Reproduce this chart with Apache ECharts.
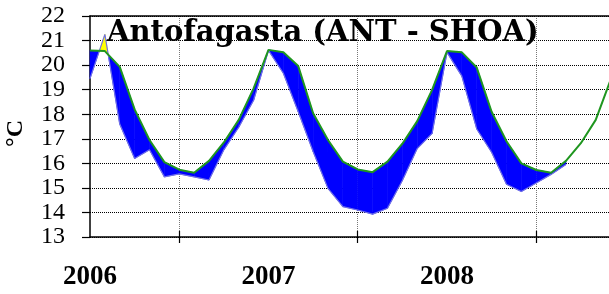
<!DOCTYPE html>
<html>
<head>
<meta charset="utf-8" />
<title>Antofagasta (ANT - SHOA)</title>
<script src="https://cdn.jsdelivr.net/npm/echarts@6/dist/echarts.min.js"></script>
<style type="text/css">
    html, body { margin: 0; padding: 0; background: #fff; }
    #main { width: 609px; height: 294px; }
</style>
</head>
<body>
<div id="main"></div>
<script type="text/javascript">
// monthly values, month 0 = Jan 2006
var climate = [
    20.60, 20.57, 19.93, 18.20, 16.95, 16.05, 15.74, 15.62, 16.10, 16.85, 17.77, 19.05,
    20.62, 20.52, 19.96, 18.04, 16.95, 16.07, 15.75, 15.64, 16.07, 16.80, 17.72, 18.99,
    20.57, 20.52, 19.90, 18.10, 16.90, 16.00, 15.73, 15.62, 16.10, 16.82, 17.77, 19.40
];
var observed = [
    19.45, 21.25, 17.60, 16.20, 16.55, 15.45, 15.57, 15.45, 15.32, 16.55, 17.47, 18.57,
    20.60, 19.67, 18.10, 16.48, 14.98, 14.24, 14.10, 13.93, 14.17, 15.30, 16.60, 17.22,
    20.52, 19.55, 17.40, 16.45, 15.15, 14.85, 15.20, 15.55, 15.95
];
var yearTicks = [0, 12, 24];
var yearLabels = ['2006', '2007', '2008'];
var midYearTicks = [6, 18, 30];

var myChart = echarts.init(document.getElementById('main'));

var climPoints = climate.map(function (v, i) { return [i, v]; });
var obsPoints = observed.map(function (v, i) { return [i, v]; });

// one item per month-to-month segment of the observed record
var segments = [];
for (var i = 0; i < observed.length - 1; i++) {
    segments.push([i, observed[i], observed[i + 1], climate[i], climate[i + 1]]);
}

function renderBand(params, api) {
    var m = api.value(0);
    var o0 = api.value(1), o1 = api.value(2);
    var g0 = api.value(3), g1 = api.value(4);
    var d0 = o0 - g0, d1 = o1 - g1;
    var pieces = [];
    function poly(pts, warm) {
        var c = warm ? '#ffff00' : '#0000ff';
        pieces.push({
            type: 'polygon',
            shape: { points: pts.map(function (p) { return api.coord(p); }) },
            style: { fill: c, stroke: c, lineWidth: 0.6 }
        });
    }
    if (d0 * d1 < 0) {
        var t = d0 / (d0 - d1);
        var cross = [m + t, o0 + t * (o1 - o0)];
        poly([[m, o0], cross, [m, g0]], d0 > 0);
        poly([cross, [m + 1, o1], [m + 1, g1]], d1 > 0);
    } else {
        poly([[m, o0], [m + 1, o1], [m + 1, g1], [m, g0]], d0 + d1 > 0);
    }
    return { type: 'group', children: pieces };
}

var option = {
    animation: false,
    title: {
        text: 'Antofagasta (ANT - SHOA)',
        left: 102,
        top: 14,
        textStyle: {
            fontFamily: 'DejaVu Serif',
            fontWeight: 'bold',
            fontSize: 29,
            color: '#000'
        }
    },
    grid: { left: 90, top: 16, right: -1.6, bottom: 57, outerBoundsMode: 'none' },
    xAxis: [
        {
            type: 'value', min: 0, max: 35, interval: 12,
            position: 'bottom',
            axisLine: { show: true, onZero: false, lineStyle: { color: '#000', width: 1.5 } },
            axisTick: { show: true, inside: false, length: 6, customValues: midYearTicks,
                        lineStyle: { color: '#000', width: 1.2 } },
            axisLabel: {
                customValues: yearTicks,
                margin: 27,
                fontFamily: 'Liberation Serif', fontWeight: 'bold', fontSize: 27, color: '#000',
                formatter: function (v) { return yearLabels[yearTicks.indexOf(v)]; }
            },
            splitLine: { show: true, lineStyle: { color: '#777', type: 'dotted', width: 1 } }
        },
        {
            type: 'value', min: 0, max: 35, position: 'top',
            axisLine: { show: true, onZero: false, lineStyle: { color: '#000', width: 1.5 } },
            axisTick: { show: false }, axisLabel: { show: false }, splitLine: { show: false }
        },
        {
            type: 'value', min: 0, max: 35, position: 'bottom',
            axisLine: { show: false, onZero: false },
            axisTick: { show: true, inside: true, length: 6, customValues: midYearTicks,
                        lineStyle: { color: '#000', width: 1.2 } },
            axisLabel: { show: false }, splitLine: { show: false }
        }
    ],
    yAxis: {
        type: 'value', min: 13, max: 22, interval: 1,
        name: '°C', nameLocation: 'middle', nameGap: 62, nameMoveOverlap: false,
        nameTextStyle: { fontFamily: 'Liberation Serif', fontWeight: 'bold', fontSize: 24,
                         color: '#000', padding: [0, 14, 0, 0] },
        axisLine: { show: true, lineStyle: { color: '#000', width: 1.5 } },
        axisTick: { show: true, inside: false, length: 8, lineStyle: { color: '#000', width: 1.2 } },
        axisLabel: { margin: 25, showMinLabel: true, showMaxLabel: true, hideOverlap: false,
                     fontFamily: 'Liberation Serif', fontSize: 24, color: '#000' },
        splitLine: { show: true, lineStyle: { color: '#000', type: 'dotted', width: 1 } }
    },
    series: [
        {
            name: 'anomaly',
            type: 'custom',
            renderItem: renderBand,
            encode: { x: 0, y: [1, 2, 3, 4] },
            data: segments,
            z: 2
        },
        {
            name: 'observed',
            type: 'line',
            data: obsPoints,
            symbol: 'none',
            lineStyle: { color: '#6f6fe6', width: 1.2 },
            z: 3
        },
        {
            name: 'climate',
            type: 'line',
            data: climPoints,
            symbol: 'none',
            lineStyle: { color: '#1f961f', width: 2 },
            z: 4
        }
    ]
};

myChart.setOption(option);
</script>
</body>
</html>
